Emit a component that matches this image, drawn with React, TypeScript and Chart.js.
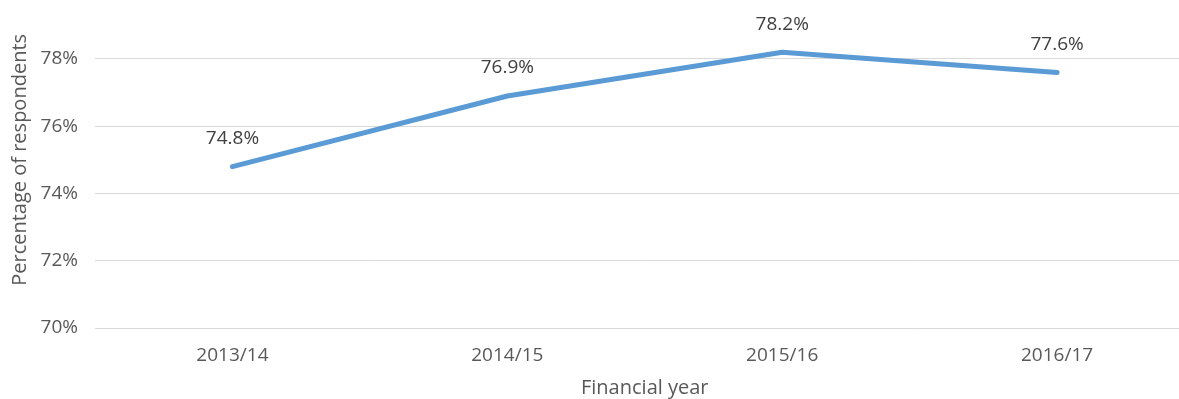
import React, { useEffect, useRef } from "react";
import { Chart, registerables } from "chart.js";

Chart.register(...registerables);

const categories = ["2013/14", "2014/15", "2015/16", "2016/17"];
const values = [74.8, 76.9, 78.2, 77.6];
const yTicks = [70, 72, 74, 76, 78];
const yMin = 70;
const yMax = 80;
const xTitle = "Financial year";
const yTitle = "Percentage of respondents";

const FONT = "'Open Sans', sans-serif";

const dataLabelPlugin = {
  id: "dataLabels",
  afterDatasetsDraw(chart: any) {
    const ctx = chart.ctx;
    const meta = chart.getDatasetMeta(0);
    ctx.save();
    ctx.font = `19px ${FONT}`;
    ctx.fillStyle = "#404040";
    ctx.textAlign = "center";
    ctx.textBaseline = "middle";
    meta.data.forEach((pt: any, i: number) => {
      ctx.fillText(values[i].toFixed(1) + "%", pt.x, pt.y - 28);
    });
    ctx.restore();
  },
};

export default function App() {
  const ref = useRef<HTMLCanvasElement | null>(null);
  useEffect(() => {
    if (!ref.current) return;
    const chart = new Chart(ref.current, {
      type: "line",
      data: {
        labels: categories,
        datasets: [
          {
            data: values,
            borderColor: "#5b9bd5",
            backgroundColor: "#5b9bd5",
            borderWidth: 5,
            pointRadius: 0,
            borderCapStyle: "round",
            borderJoinStyle: "round",
            tension: 0,
          },
        ],
      },
      options: {
        responsive: true,
        maintainAspectRatio: false,
        animation: false,
        layout: { padding: { top: 11.75, right: 20.5, bottom: 0, left: 0 } },
        plugins: { legend: { display: false }, tooltip: { enabled: false } },
        scales: {
          x: {
            offset: true,
            grid: { display: false, drawTicks: false },
            border: { display: false },
            ticks: { color: "#595959", font: { family: FONT, size: 19 }, padding: 16 },
            title: {
              display: true,
              text: xTitle,
              color: "#595959",
              font: { family: FONT, size: 20 },
              padding: { top: 0, bottom: 0 },
            },
            afterFit(scale: any) {
              scale.height = 72;
              scale.paddingLeft = 0;
              scale.paddingRight = 0;
            },
          },
          y: {
            min: yMin,
            max: yMax,
            grid: { color: "#d9d9d9", lineWidth: 1, drawTicks: false },
            border: { display: false },
            afterBuildTicks(scale: any) {
              scale.ticks = yTicks.map((v) => ({ value: v }));
            },
            ticks: {
              color: "#595959",
              font: { family: FONT, size: 19 },
              padding: 17,
              callback: (v: any) => v + "%",
            },
            title: {
              display: true,
              text: yTitle,
              color: "#595959",
              font: { family: FONT, size: 20 },
              padding: { top: 8, bottom: 0 },
            },
            afterFit(scale: any) {
              scale.width = 95;
              scale.paddingTop = 0;
              scale.paddingBottom = 0;
            },
          },
        },
      },
      plugins: [dataLabelPlugin],
    });
    return () => chart.destroy();
  }, []);

  return (
    <div
      style={{
        position: "fixed",
        left: 0,
        top: 0,
        width: 1179,
        height: 399,
        overflow: "hidden",
        background: "#ffffff",
      }}
    >
      <div style={{ position: "absolute", left: 0, top: -20, width: 1215, height: 420 }}>
        <canvas ref={ref} />
      </div>
    </div>
  );
}
